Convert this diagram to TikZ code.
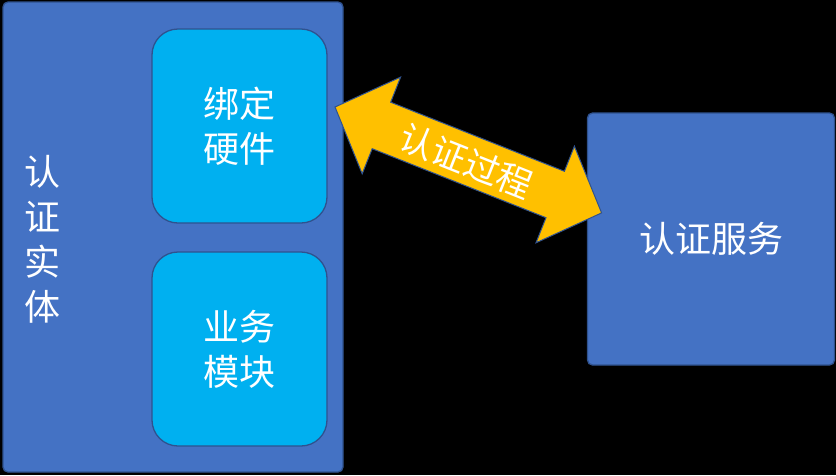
\documentclass[tikz,border=0pt]{standalone}
\usepackage{fontspec}
\setmainfont{Noto Sans CJK SC}
\definecolor{blu}{HTML}{4472C4}
\definecolor{bordc}{HTML}{2F528F}
\definecolor{cyanb}{HTML}{00B0F0}
\definecolor{gold}{HTML}{FFC000}
\begin{document}
\begin{tikzpicture}[x=1pt,y=-1pt,
  bigbox/.style={draw=bordc, line width=1.3pt, fill=blu, rounded corners=5pt, inner sep=0pt},
  subbox/.style={draw=bordc, line width=1.3pt, fill=cyanb, rounded corners=26pt, inner sep=0pt, minimum width=175pt, minimum height=194pt},
  lbl/.style={text=white, font=\fontsize{36}{45}\selectfont, align=center, inner sep=0pt}]
\fill[black] (0,0) rectangle (836,475);
\useasboundingbox (0,0) rectangle (836,475);
% entity box
\node[bigbox, minimum width=340pt, minimum height=470pt] (entity) at (173,237) {};
\node[lbl] (entitylbl) at (42,239) {认\\证\\实\\体};
\node[subbox] (hw) at (239.5,126) {};
\node[lbl] (hwlbl) at (hw.center) {绑定\\硬件};
\node[subbox] (biz) at (239.5,349) {};
\node[lbl] (bizlbl) at (biz.center) {业务\\模块};
% service box
\node[bigbox, minimum width=247pt, minimum height=252pt] (svc) at (711,239) {};
\node[lbl] (svclbl) at (svc.center) {认证服务};
% double block arrow
\draw[fill=gold, draw=bordc, line width=1pt, line join=miter]
  (335,107) -- (400.6,77.1) -- (390.7,102.2) -- (564.4,171.3) -- (574.4,146.2)
  -- (601.6,212.9) -- (536,242.8) -- (546,217.7) -- (372.2,148.7) -- (362.2,173.8) -- cycle;
\node[text=white, font=\fontsize{35}{40}\selectfont, rotate=-21.7, inner sep=0pt] (proc) at (466,161) {认证过程};
\end{tikzpicture}
\end{document}
